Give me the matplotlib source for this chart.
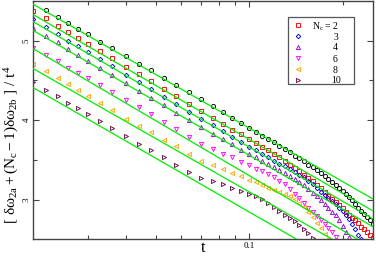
import numpy as np
import matplotlib
matplotlib.use("Agg")
import matplotlib.pyplot as plt
from matplotlib.ticker import FixedLocator, FixedFormatter, NullFormatter
from matplotlib.patches import Rectangle

plt.rcParams['font.family'] = 'Liberation Serif'
plt.rcParams['mathtext.fontset'] = 'custom'
plt.rcParams['mathtext.rm'] = 'Liberation Serif'
plt.rcParams['mathtext.it'] = 'Liberation Serif'

nan = np.nan

t = [0.020, 0.022, 0.024, 0.026, 0.028, 0.030, 0.033, 0.036, 0.040, 0.044,
     0.048, 0.053, 0.058, 0.064, 0.070, 0.076, 0.082, 0.088, 0.094, 0.100,
     0.105, 0.110, 0.115, 0.120, 0.125, 0.130, 0.135, 0.140, 0.145, 0.150,
     0.155, 0.160, 0.165, 0.170, 0.175, 0.180, 0.185, 0.190, 0.195, 0.200,
     0.205, 0.210, 0.215, 0.220, 0.225, 0.230, 0.235, 0.240, 0.245, 0.250]

# black circles (no legend entry)
y_black = [nan, 5.39, 5.30, 5.22, 5.15, 5.08, 4.99, 4.91, 4.81, 4.71,
           4.63, 4.53, 4.44, 4.35, 4.26, 4.18, 4.10, 4.03, 3.96, 3.90,
           3.85, 3.80, 3.76, 3.72, 3.68, 3.64, 3.60, 3.55, 3.52, 3.48,
           3.44, 3.41, 3.37, 3.34, 3.30, 3.26, 3.22, 3.18, 3.15, 3.11,
           3.07, 3.03, 2.99, 2.95, 2.90, 2.86, 2.82, 2.78, 2.74, 2.69]
y_nc2 = [5.38, 5.28, 5.19, 5.11, 5.03, 4.96, 4.87, 4.78, 4.67, 4.58,
         4.49, 4.39, 4.30, 4.20, 4.11, 4.03, 3.95, 3.88, 3.82, 3.76,
         3.71, 3.66, 3.62, 3.57, 3.53, 3.48, 3.44, 3.40, 3.36, 3.31,
         3.27, 3.23, 3.18, 3.14, 3.10, 3.05, 3.01, 2.97, 2.93, 2.89,
         2.85, 2.81, 2.77, 2.74, 2.70, 2.66, 2.63, 2.59, 2.56, 2.52]
y_nc3 = [5.27, 5.17, 5.08, 5.00, 4.93, 4.86, 4.77, 4.68, 4.57, 4.48,
         4.39, 4.29, 4.20, 4.10, 4.02, 3.94, 3.86, 3.79, 3.73, 3.66,
         3.62, 3.57, 3.53, 3.49, 3.45, 3.42, 3.38, 3.35, 3.31, 3.28,
         3.24, 3.19, 3.15, 3.10, 3.06, 3.02, 2.98, 2.94, 2.90, 2.86,
         2.81, 2.75, 2.69, 2.625, 2.56, 2.50, nan, nan, nan, nan]
y_nc4 = [5.16, 5.06, 4.98, 4.90, 4.82, 4.75, 4.66, 4.57, 4.465, 4.37,
         4.28, 4.185, 4.09, 4.00, 3.91, 3.83, 3.76, 3.695, 3.63, 3.58,
         3.53, 3.49, 3.45, 3.41, 3.37, 3.33, 3.30, 3.265, 3.225, 3.18,
         3.13, 3.08, 3.04, 2.99, 2.94, 2.895, 2.85, 2.81, 2.74, 2.665,
         2.59, 2.525, nan, nan, nan, nan, nan, nan, nan, nan]
y_nc6 = [4.91, 4.82, 4.74, 4.66, 4.59, 4.53, 4.44, 4.35, 4.25, 4.16,
         4.08, 3.98, 3.89, 3.79, 3.705, 3.64, 3.58, 3.53, 3.475, 3.43,
         3.39, 3.355, 3.32, 3.28, 3.24, 3.19, 3.135, 3.075, 3.015, 2.955,
         2.90, 2.84, 2.79, 2.74, 2.69, 2.645, 2.59, 2.53, nan, nan,
         nan, nan, nan, nan, nan, nan, nan, nan, nan, nan]
y_nc8 = [4.71, 4.62, 4.53, 4.45, 4.38, 4.31, 4.215, 4.13, 4.02, 3.93,
         3.85, 3.75, 3.67, 3.575, 3.49, 3.44, 3.39, 3.34, 3.295, 3.25,
         3.22, 3.185, 3.15, 3.12, 3.10, 3.075, 3.04, 3.01, 2.96, 2.91,
         2.84, 2.78, 2.71, 2.64, 2.57, 2.50, nan, nan, nan, nan,
         nan, nan, nan, nan, nan, nan, nan, nan, nan, nan]
y_nc10 = [4.475, 4.38, 4.30, 4.22, 4.15, 4.08, 3.99, 3.90, 3.80, 3.70,
          3.62, 3.53, 3.44, 3.35, 3.27, 3.23, 3.19, 3.15, 3.11, 3.07,
          3.04, 3.005, 2.96, 2.91, 2.86, 2.81, 2.77, 2.73, 2.685, 2.63,
          2.58, 2.52, nan, nan, nan, nan, nan, nan, nan, nan,
          nan, nan, nan, nan, nan, nan, nan, nan, nan, nan]

# green fit lines, value at t=0.02 and at t=0.25
fit_t = [0.02, 0.25]
fit_left = [5.46, 5.33, 5.24, 5.13, 4.90, 4.65, 4.41]
fit_right = [3.01, 2.86, 2.76, 2.66, 2.39, 2.21, 1.95]

series = [y_black, y_nc2, y_nc3, y_nc4, y_nc6, y_nc8, y_nc10]
colors = ['#000000', '#ff0000', '#0000ff', '#9400d3', '#ff00ff', '#ffa500', '#670748']
markers = ['o', 's', 'D', '^', 'v', '<', '>']
sizes = [3.0, 3.0, 2.3, 3.0, 3.0, 3.0, 3.0]
legend_labels = [r'N$_c$ = 2', '3', '4', '6', '8', '10']

fig = plt.figure(figsize=(3.76, 2.62), dpi=100)
ax = fig.add_axes([0.0878, 0.0866, 0.9032, 0.9096])

for ys, c, m, s in zip(series, colors, markers, sizes):
    ax.plot(t, ys, linestyle='none', marker=m, ms=s, mfc='none', mec=c, mew=0.65)

for yl, yr in zip(fit_left, fit_right):
    ax.plot(fit_t, [yl, yr], color='#00ee00', lw=0.9, zorder=5)

ax.set_xscale('log')
ax.set_xlim(0.02, 0.25)
ax.set_ylim(2.5, 5.5)

ax.xaxis.set_major_locator(FixedLocator([0.1]))
ax.xaxis.set_major_formatter(FixedFormatter(['0.1']))
ax.xaxis.set_minor_locator(FixedLocator([0.03, 0.04, 0.05, 0.06, 0.07, 0.08, 0.09, 0.2]))
ax.xaxis.set_minor_formatter(NullFormatter())
ax.yaxis.set_major_locator(FixedLocator([3, 4, 5]))
ax.yaxis.set_minor_locator(FixedLocator([3.5, 4.5]))

ax.tick_params(which='both', direction='in', top=True, right=True, width=0.8, color='#444444',
               labelsize=6.5, pad=2)
ax.tick_params(which='major', length=4.5)
ax.tick_params(which='minor', length=2.8)
ax.tick_params(axis='y', labelrotation=90, pad=1.5)
for lab in ax.get_yticklabels():
    lab.set_va('center')
for sp in ax.spines.values():
    sp.set_linewidth(1.0)
    sp.set_color('#444444')

ax.set_xlabel('t', fontsize=12)
ax.xaxis.set_label_coords(0.5, -0.037)
ax.xaxis.label.set_va('center')
ax.set_ylabel(r'$[\ \delta\omega_{2a} + (N_c - 1)\delta\omega_{2b}\ ]\ /\ t^4$', fontsize=11)
ax.yaxis.set_label_coords(-0.062, 0.396)
ax.yaxis.label.set_va('center')

# legend box drawn by hand so the numbers line up like the original
ax.add_patch(Rectangle((0.7518, 0.6517), 0.1935, 0.2799, transform=ax.transAxes,
                       fill=False, ec='#555555', lw=0.9, zorder=6))
row_y = [0.8993, 0.8531, 0.8070, 0.7608, 0.7146, 0.6705]
text_x = [0.8207, 0.8837, 0.8837, 0.8837, 0.8837, 0.8790]
for i in range(6):
    ax.plot([0.7803], [row_y[i]], transform=ax.transAxes, linestyle='none',
            marker=markers[i + 1], ms=sizes[i + 1], mfc='none', mec=colors[i + 1],
            mew=0.65, zorder=7)
    ax.text(text_x[i], row_y[i], legend_labels[i], transform=ax.transAxes,
            fontsize=7, va='center_baseline', ha='left', zorder=7)

fig.savefig('out.png', dpi=100)
